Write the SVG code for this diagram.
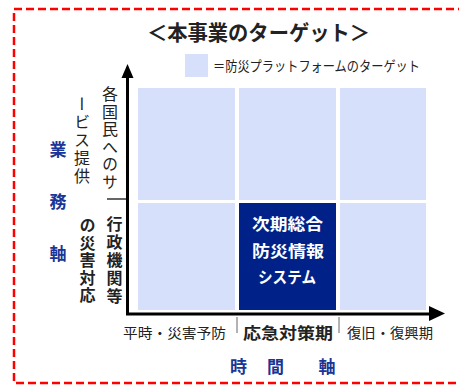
<svg xmlns="http://www.w3.org/2000/svg" width="459" height="390" viewBox="0 0 459 390">
<defs>
<style>
.t{font-family:"Noto Sans CJK JP","Noto Sans",sans-serif;fill:#222}
.b{font-weight:bold}
.blue{fill:#1a3596;font-weight:bold;font-family:"Noto Sans CJK JP","Noto Sans",sans-serif}
.cell{fill:#d6e0fb}
.v{writing-mode:vertical-rl;font-family:"Noto Sans CJK JP","Noto Sans",sans-serif;fill:#222}
.ax{stroke:#000;stroke-width:3;fill:none}
</style>
<marker id="ah" markerWidth="6" markerHeight="6" refX="5" refY="3" orient="auto" markerUnits="strokeWidth">
<path d="M0,0 L6,3 L0,6 z" fill="#000"/>
</marker>
</defs>
<rect id="frame" x="14" y="9" width="460" height="374" fill="none" stroke="#f00" stroke-width="2.5" stroke-dasharray="8 4"/>
<g id="title"><text class="t b" x="147" y="40" font-size="21" textLength="223" lengthAdjust="spacingAndGlyphs">＜本事業のターゲット＞</text></g>
<g id="legend">
<rect class="cell" x="185" y="54" width="23" height="23"/>
<text class="t" x="213" y="71" font-size="14" textLength="207" lengthAdjust="spacingAndGlyphs">＝防災プラットフォームのターゲット</text>
</g>
<g id="cells">
<rect id="c11" class="cell" x="138" y="88" width="97" height="112"/>
<rect id="c12" class="cell" x="239" y="88" width="97" height="112"/>
<rect id="c13" class="cell" x="340" y="88" width="86" height="112"/>
<rect id="c21" class="cell" x="138" y="203" width="97" height="107"/>
<rect id="c23" class="cell" x="340" y="203" width="86" height="107"/>
</g>
<g id="target">
<rect x="239" y="203" width="97" height="107" fill="#002288"/>
<text class="b" x="252" y="230" font-size="16" fill="#fff" font-family="Noto Sans CJK JP,sans-serif" textLength="71" lengthAdjust="spacingAndGlyphs">次期総合</text>
<text class="b" x="252" y="257" font-size="16" fill="#fff" font-family="Noto Sans CJK JP,sans-serif" textLength="72" lengthAdjust="spacingAndGlyphs">防災情報</text>
<text class="b" x="258" y="283" font-size="16" fill="#fff" font-family="Noto Sans CJK JP,sans-serif" textLength="58" lengthAdjust="spacingAndGlyphs">システム</text>
</g>
<g id="connectors">
<path class="ax" d="M127.5,314 L127.5,76"/>
<path d="M121.5,78 L127.5,64 L133.5,78 z" fill="#000"/>
<path class="ax" d="M126,314 L431,314"/>
<path d="M429,306 L445,313.5 L429,321 z" fill="#000"/>
<path d="M107,199 L127,199" stroke="#000" stroke-width="1.2"/>
<path d="M237,317 V333 M339,317 V333" stroke="#666" stroke-width="1"/>
</g>
<g id="yaxis-labels">
<text class="v" x="110" y="86" font-size="16" letter-spacing="1.5">各国民へのサ</text>
<text class="v" x="82" y="96" font-size="16" letter-spacing="2">ービス提供</text>
<text class="v b" x="114.5" y="216" font-size="16" letter-spacing="2">行政機関等</text>
<text class="v b" x="87.5" y="217" font-size="16" letter-spacing="1.5">の災害対応</text>
<text class="blue" x="58" y="156" font-size="17" text-anchor="middle">業</text>
<text class="blue" x="58" y="208" font-size="17" text-anchor="middle">務</text>
<text class="blue" x="58" y="260" font-size="17" text-anchor="middle">軸</text>
</g>
<g id="xaxis-labels">
<text class="t" x="123" y="338" font-size="14" textLength="103" lengthAdjust="spacingAndGlyphs">平時・災害予防</text>
<text class="t b" x="243" y="339" font-size="16" textLength="90" lengthAdjust="spacingAndGlyphs">応急対策期</text>
<text class="t" x="347" y="338" font-size="14" textLength="86" lengthAdjust="spacingAndGlyphs">復旧・復興期</text>
<text class="blue" x="238.5" y="373" font-size="17" text-anchor="middle">時</text>
<text class="blue" x="275.5" y="373" font-size="17" text-anchor="middle">間</text>
<text class="blue" x="327" y="373" font-size="17" text-anchor="middle">軸</text>
</g>
</svg>
